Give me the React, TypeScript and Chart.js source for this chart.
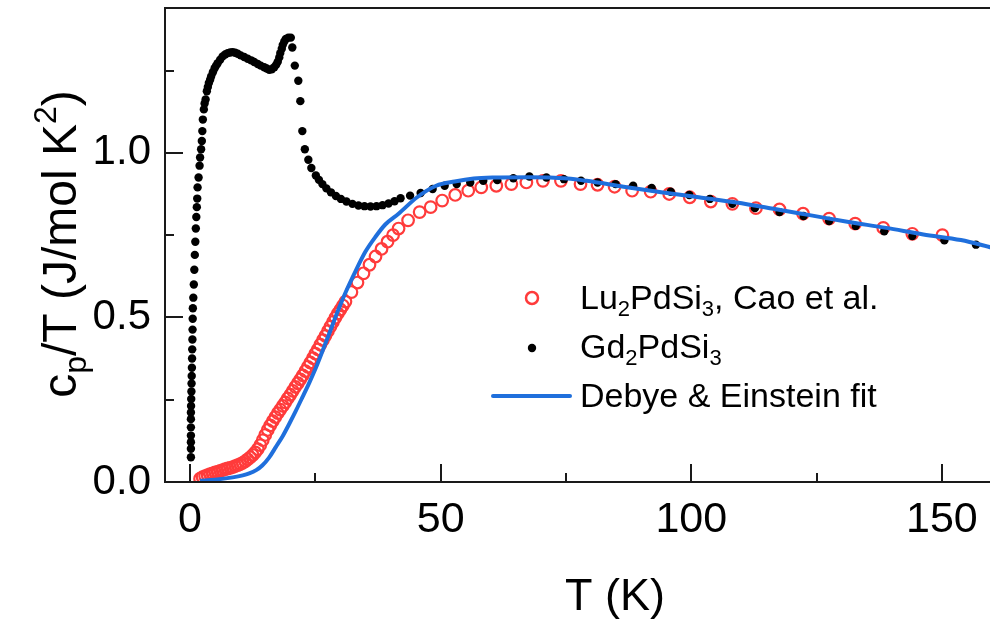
import React, { useEffect, useRef } from "react";
import { Chart, registerables } from "chart.js";

Chart.register(...registerables);

// ---------------- data ----------------
// Lu2PdSi3, Cao et al. (open red circles): temperature (K) and cp/T (J/mol K^2)
const luT = [
  2.0, 2.5, 3.0, 3.5, 4.0, 4.5, 5.0, 5.5, 6.0, 6.5, 7.0, 7.5, 8.0, 8.5, 9.0, 9.5, 10.0, 10.5, 11.0, 11.5,
  12.0, 12.5, 13.0, 13.5, 14.0, 14.5, 15.0, 15.5, 16.0, 16.5, 17.0, 17.5, 18.0, 18.5, 19.0, 19.5, 20.0,
  20.5, 21.0, 21.5, 22.0, 22.5, 23.0, 23.5, 24.0, 24.5, 25.0, 25.5, 26.0, 26.5, 27.0, 27.5, 28.0, 28.5,
  29.0, 29.5, 30.0, 30.5, 31.0, 32.2, 33.4, 34.6, 35.8, 37.0, 38.2, 39.4, 40.5, 41.6, 43.5, 45.8, 48.0,
  50.3, 52.9, 55.5, 58.1, 61.1, 64.1, 67.1, 70.4, 74.0, 77.9, 81.3, 84.7, 88.2, 91.9, 95.6, 99.7, 103.9,
  108.2, 112.9, 117.6, 122.3, 127.5, 132.7, 138.3, 144.1, 150.1,
];
const luV = [
  0.010, 0.015, 0.018, 0.021, 0.024, 0.026, 0.029, 0.031, 0.034, 0.036, 0.039, 0.041, 0.043, 0.045, 0.048,
  0.051, 0.054, 0.058, 0.063, 0.069, 0.075, 0.082, 0.090, 0.100, 0.112, 0.127, 0.143, 0.158, 0.172, 0.185,
  0.197, 0.209, 0.220, 0.231, 0.242, 0.254, 0.265, 0.277, 0.289, 0.300, 0.312, 0.324, 0.337, 0.350, 0.363,
  0.376, 0.390, 0.403, 0.417, 0.431, 0.444, 0.458, 0.472, 0.486, 0.499, 0.512, 0.524, 0.536, 0.548, 0.577,
  0.606, 0.634, 0.660, 0.685, 0.708, 0.730, 0.750, 0.770, 0.795, 0.820, 0.835, 0.855, 0.872, 0.885, 0.895,
  0.900, 0.905, 0.910, 0.915, 0.915, 0.905, 0.903, 0.897, 0.885, 0.882, 0.875, 0.865, 0.852, 0.845, 0.832,
  0.828, 0.815, 0.800, 0.785, 0.772, 0.754, 0.750,
];

// Gd2PdSi3 (black dots)
const gdT = [
  0.17, 0.17, 0.17, 0.17, 0.17, 0.17, 0.17, 0.2, 0.23, 0.27, 0.3, 0.33, 0.37, 0.4, 0.43, 0.47, 0.5, 0.53,
  0.56, 0.65, 0.75, 0.85, 0.95, 1.05, 1.15, 1.25, 1.35, 1.43, 1.5, 1.7, 1.9, 2.0, 2.2, 2.35, 2.45, 2.55,
  2.75, 2.9, 3.1, 3.35, 3.55, 3.75, 4.0, 4.2, 4.55, 4.9, 5.2, 5.5, 6.0, 6.5, 7.0, 7.5, 8.0, 8.5, 9.0, 9.5,
  10.1, 10.8, 11.5, 12.2, 12.8, 13.5, 14.1, 14.8, 15.3, 15.8, 16.3, 16.8, 17.2, 17.5, 17.8, 18.0, 18.3,
  18.5, 18.8, 19.1, 19.6, 20.1, 20.4, 20.9, 21.6, 22.0, 22.4, 22.9, 23.6, 24.2, 25.1, 25.7, 26.4, 27.2,
  28.1, 29.1, 30.1, 31.2, 32.4, 33.6, 34.8, 36.0, 37.2, 38.4, 39.6, 40.8, 42.0, 43.9, 46.0, 48.4, 50.8,
  53.2, 55.9, 58.5, 61.3, 64.5, 67.7, 71.1, 74.6, 78.0, 81.3, 84.9, 88.4, 92.1, 95.9, 99.6, 103.7, 108.2,
  112.7, 117.6, 122.4, 127.5, 132.8, 138.5, 144.1, 150.5, 156.8,
];
const gdV = [
  0.075, 0.101, 0.121, 0.141, 0.166, 0.191, 0.211, 0.231, 0.252, 0.275, 0.299, 0.322, 0.347, 0.375, 0.403,
  0.433, 0.463, 0.496, 0.528, 0.56, 0.6, 0.645, 0.69, 0.73, 0.77, 0.805, 0.835, 0.861, 0.895, 0.925, 0.961,
  0.986, 1.011, 1.036, 1.066, 1.101, 1.132, 1.15, 1.162, 1.187, 1.2, 1.212, 1.222, 1.232, 1.245, 1.257,
  1.265, 1.272, 1.283, 1.293, 1.299, 1.303, 1.305, 1.306, 1.304, 1.301, 1.296, 1.291, 1.286, 1.281, 1.276,
  1.27, 1.265, 1.26, 1.256, 1.252, 1.254, 1.26, 1.268, 1.277, 1.29, 1.303, 1.316, 1.328, 1.338, 1.346,
  1.35, 1.35, 1.32, 1.265, 1.219, 1.157, 1.066, 1.011, 0.979, 0.954, 0.931, 0.918, 0.905, 0.892, 0.88,
  0.869, 0.86, 0.852, 0.845, 0.84, 0.838, 0.837, 0.838, 0.841, 0.846, 0.853, 0.862, 0.87, 0.878, 0.89,
  0.9, 0.905, 0.91, 0.915, 0.917, 0.923, 0.928, 0.925, 0.92, 0.915, 0.91, 0.905, 0.9, 0.893, 0.882, 0.872,
  0.86, 0.845, 0.832, 0.82, 0.808, 0.793, 0.778, 0.762, 0.747, 0.734, 0.721,
];

// Debye & Einstein fit (blue line)
const fitT = [
  2.0, 5.0, 8.5, 10.5, 11.8, 13.2, 14.4, 15.8, 17.1, 18.5, 19.8, 21.1, 22.4, 23.8, 25.1, 26.4, 27.7, 29.7,
  31.0, 33.0, 35.0, 37.0, 39.0, 41.6, 45.3, 49.1, 52.8, 56.6, 60.4, 67.8, 75.3, 79.1, 86.5, 94.0, 101.5,
  109.0, 116.4, 123.9, 131.4, 138.9, 146.3, 153.8, 160.0,
];
const fitV = [
  0.004, 0.007, 0.014, 0.02, 0.026, 0.036, 0.05, 0.075, 0.106, 0.14, 0.177, 0.216, 0.257, 0.302, 0.347,
  0.397, 0.448, 0.528, 0.575, 0.64, 0.7, 0.745, 0.783, 0.815, 0.865, 0.9, 0.913, 0.922, 0.925, 0.926,
  0.922, 0.915, 0.897, 0.88, 0.865, 0.849, 0.83, 0.81, 0.79, 0.772, 0.752, 0.735, 0.712,
];

const xRange = [-5, 160];
const yRange = [0, 1.44];
const xMajorTicks = [0, 50, 100, 150];
const xMinorTicks = [25, 75, 125];
const yMajorTicks = [0, 0.5, 1.0];
const yMinorTicks = [0.25, 0.75, 1.25];

const seriesNames = ["Lu2PdSi3, Cao et al.", "Gd2PdSi3", "Debye & Einstein fit"];

// ---------------- styling ----------------
const FONT = '"Liberation Sans", Arial, Helvetica, sans-serif';
const RED = "#ff3b3b";
const BLUE = "#1f6fdc";
const AXIS = "#1a1a1a";

type Part = { t: string; k?: "sub" | "sup" };

function partFont(size: number, k?: string) {
  return `${k ? Math.round(size * 0.66) : size}px ${FONT}`;
}

function richWidth(ctx: CanvasRenderingContext2D, parts: Part[], size: number) {
  let w = 0;
  for (const p of parts) {
    ctx.font = partFont(size, p.k);
    w += ctx.measureText(p.t).width;
  }
  return w;
}

function drawRich(ctx: CanvasRenderingContext2D, parts: Part[], x: number, y: number, size: number) {
  let cx = x;
  ctx.textBaseline = "alphabetic";
  ctx.textAlign = "left";
  for (const p of parts) {
    ctx.font = partFont(size, p.k);
    const dy = p.k === "sub" ? size * 0.2 : p.k === "sup" ? -size * 0.42 : 0;
    ctx.fillText(p.t, cx, y + dy);
    cx += ctx.measureText(p.t).width;
  }
}

const legendParts: Part[][] = [
  [{ t: "Lu" }, { t: "2", k: "sub" }, { t: "PdSi" }, { t: "3", k: "sub" }, { t: ", Cao et al." }],
  [{ t: "Gd" }, { t: "2", k: "sub" }, { t: "PdSi" }, { t: "3", k: "sub" }],
  [{ t: "Debye & Einstein fit" }],
];
const yTitleParts: Part[] = [
  { t: "c" },
  { t: "p", k: "sub" },
  { t: "/T (J/mol K" },
  { t: "2", k: "sup" },
  { t: ")" },
];
const xTitle = "T (K)";

const decorPlugin = {
  id: "decor",
  afterDraw(chart: any) {
    const ctx: CanvasRenderingContext2D = chart.ctx;
    const { left, right, top, bottom } = chart.chartArea;
    const xs = chart.scales.x;
    const ys = chart.scales.y;
    ctx.save();
    // frame
    ctx.strokeStyle = AXIS;
    ctx.lineWidth = 2;
    ctx.beginPath();
    ctx.moveTo(right + 5, top);
    ctx.lineTo(left, top);
    ctx.lineTo(left, bottom);
    ctx.lineTo(right + 5, bottom);
    ctx.stroke();
    // inward ticks
    ctx.beginPath();
    for (const v of xMajorTicks) {
      const px = Math.round(xs.getPixelForValue(v));
      ctx.moveTo(px, bottom);
      ctx.lineTo(px, bottom - 18);
    }
    for (const v of xMinorTicks) {
      const px = Math.round(xs.getPixelForValue(v));
      ctx.moveTo(px, bottom);
      ctx.lineTo(px, bottom - 9);
    }
    for (const v of yMajorTicks) {
      const py = Math.round(ys.getPixelForValue(v));
      ctx.moveTo(left, py);
      ctx.lineTo(left + 18, py);
    }
    for (const v of yMinorTicks) {
      const py = Math.round(ys.getPixelForValue(v));
      ctx.moveTo(left, py);
      ctx.lineTo(left + 9, py);
    }
    ctx.stroke();

    ctx.fillStyle = "#000";
    // x title
    ctx.font = `45px ${FONT}`;
    ctx.textAlign = "center";
    ctx.textBaseline = "alphabetic";
    ctx.fillText(xTitle, 615, 610);

    // y title (rotated)
    const ySize = 48;
    const w = richWidth(ctx, yTitleParts, ySize);
    ctx.save();
    ctx.translate(76, 244);
    ctx.rotate(-Math.PI / 2);
    drawRich(ctx, yTitleParts, -w / 2, 0, ySize);
    ctx.restore();

    // legend
    const lx = 580;
    const baselines = [309, 358, 407];
    const mx = 532;
    ctx.fillStyle = "#000";
    legendParts.forEach((parts, i) => drawRich(ctx, parts, lx, baselines[i], 34));
    ctx.strokeStyle = RED;
    ctx.lineWidth = 2.5;
    ctx.beginPath();
    ctx.arc(mx, 298, 6, 0, Math.PI * 2);
    ctx.stroke();
    ctx.fillStyle = "#000";
    ctx.beginPath();
    ctx.arc(mx, 348, 4.2, 0, Math.PI * 2);
    ctx.fill();
    ctx.strokeStyle = BLUE;
    ctx.lineWidth = 4;
    ctx.lineCap = "round";
    ctx.beginPath();
    ctx.moveTo(493, 396);
    ctx.lineTo(570, 396);
    ctx.stroke();
    ctx.restore();
  },
};

export default function App() {
  const ref = useRef<HTMLCanvasElement | null>(null);

  useEffect(() => {
    if (!ref.current) return;
    const lu = luT.map((x, i) => ({ x, y: luV[i] }));
    const gd = gdT.map((x, i) => ({ x, y: gdV[i] }));
    const fit = fitT.map((x, i) => ({ x, y: fitV[i] }));
    const chart = new Chart(ref.current, {
      type: "scatter",
      data: {
        datasets: [
          {
            label: seriesNames[2],
            data: fit,
            showLine: true,
            pointRadius: 0,
            borderColor: BLUE,
            borderWidth: 4,
            cubicInterpolationMode: "monotone",
            order: 0,
          } as any,
          {
            label: seriesNames[1],
            data: gd,
            pointRadius: 4.2,
            pointBackgroundColor: "#000",
            pointBorderWidth: 0,
            borderColor: "#000",
            backgroundColor: "#000",
            order: 1,
          },
          {
            label: seriesNames[0],
            data: lu,
            pointRadius: 5.8,
            pointBorderWidth: 2.2,
            pointBorderColor: RED,
            pointBackgroundColor: "rgba(0,0,0,0)",
            borderColor: RED,
            backgroundColor: "rgba(0,0,0,0)",
            order: 2,
          },
        ],
      },
      options: {
        responsive: false,
        maintainAspectRatio: false,
        animation: false,
        layout: { padding: { top: 4, right: 5, left: 0, bottom: 0 } },
        plugins: { legend: { display: false }, tooltip: { enabled: false } },
        scales: {
          x: {
            type: "linear",
            min: xRange[0],
            max: xRange[1],
            grid: { display: false, drawTicks: false },
            border: { display: false },
            afterBuildTicks: (s: any) => {
              s.ticks = xMajorTicks.map((value) => ({ value }));
            },
            afterFit: (s: any) => {
              s.height = 147;
              s.paddingLeft = 0;
              s.paddingRight = 0;
            },
            ticks: {
              font: { family: FONT, size: 43 },
              color: "#000",
              padding: 12,
              maxRotation: 0,
              autoSkip: false,
            },
          },
          y: {
            type: "linear",
            min: yRange[0],
            max: yRange[1],
            grid: { display: false, drawTicks: false },
            border: { display: false },
            afterBuildTicks: (s: any) => {
              s.ticks = yMajorTicks.map((value) => ({ value }));
            },
            afterFit: (s: any) => {
              s.width = 165;
              s.paddingTop = 0;
              s.paddingBottom = 0;
            },
            ticks: {
              font: { family: FONT, size: 42 },
              color: "#000",
              padding: 14,
              callback: (v: any) => Number(v).toFixed(1),
            },
          },
        },
      },
      plugins: [decorPlugin],
    });
    return () => chart.destroy();
  }, []);

  return (
    <div
      style={{
        position: "fixed",
        left: 0,
        top: 0,
        width: 990,
        height: 629,
        overflow: "hidden",
        background: "#fff",
      }}
    >
      <canvas ref={ref} width={1000} height={629} style={{ width: 1000, height: 629, display: "block" }} />
    </div>
  );
}
